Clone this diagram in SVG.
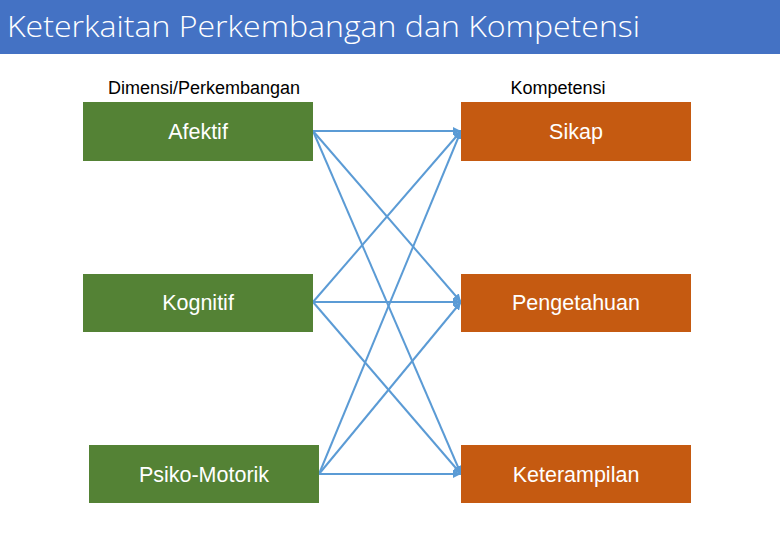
<svg xmlns="http://www.w3.org/2000/svg" width="780" height="540" viewBox="0 0 780 540">
<style>
.box-l{fill:#548235;}
.box-r{fill:#C55A11;}
.bt{font-family:"Liberation Sans",Arial,sans-serif;font-size:21.5px;fill:#ffffff;text-anchor:middle;}
.hd{font-family:"Liberation Sans",Arial,sans-serif;font-size:18px;fill:#000000;text-anchor:middle;}
.ln{stroke:#5B9BD5;stroke-width:2;fill:none;marker-end:url(#ah);}
</style>
<defs>
<marker id="ah" viewBox="0 0 10 10" refX="10" refY="5" markerWidth="4" markerHeight="4" orient="auto" markerUnits="strokeWidth">
<path d="M0,0 L10,5 L0,10 z" fill="#5B9BD5"/>
</marker>
</defs>
<rect width="780" height="540" fill="#ffffff"/>
<g id="title">
<rect x="0" y="0" width="780" height="54" fill="#4472C4"/>
<text x="7" y="37" font-family="'Open Sans','Liberation Sans',sans-serif" font-weight="300" font-size="30" fill="#ffffff" textLength="633" lengthAdjust="spacingAndGlyphs">Keterkaitan Perkembangan dan Kompetensi</text>
</g>
<g id="headers">
<text class="hd" x="204" y="94">Dimensi/Perkembangan</text>
<text class="hd" x="558" y="94">Kompetensi</text>
</g>
<g id="connectors">
<line class="ln" x1="313" y1="131" x2="461" y2="131"/>
<line class="ln" x1="313" y1="131" x2="461" y2="302"/>
<line class="ln" x1="313" y1="131" x2="461" y2="474"/>
<line class="ln" x1="313" y1="302" x2="461" y2="131"/>
<line class="ln" x1="313" y1="302" x2="461" y2="302"/>
<line class="ln" x1="313" y1="302" x2="461" y2="474"/>
<line class="ln" x1="319" y1="474" x2="461" y2="131"/>
<line class="ln" x1="319" y1="474" x2="461" y2="302"/>
<line class="ln" x1="319" y1="474" x2="461" y2="474"/>
</g>
<g id="afektif">
<rect class="box-l" x="83" y="102" width="230" height="59"/>
<text class="bt" x="198" y="139">Afektif</text>
</g>
<g id="kognitif">
<rect class="box-l" x="83" y="274" width="230" height="58"/>
<text class="bt" x="198" y="310">Kognitif</text>
</g>
<g id="psikomotorik">
<rect class="box-l" x="89" y="445" width="230" height="58"/>
<text class="bt" x="204" y="482">Psiko-Motorik</text>
</g>
<g id="sikap">
<rect class="box-r" x="461" y="102" width="230" height="59"/>
<text class="bt" x="576" y="139">Sikap</text>
</g>
<g id="pengetahuan">
<rect class="box-r" x="461" y="274" width="230" height="58"/>
<text class="bt" x="576" y="310">Pengetahuan</text>
</g>
<g id="keterampilan">
<rect class="box-r" x="461" y="445" width="230" height="58"/>
<text class="bt" x="576" y="482">Keterampilan</text>
</g>
</svg>
